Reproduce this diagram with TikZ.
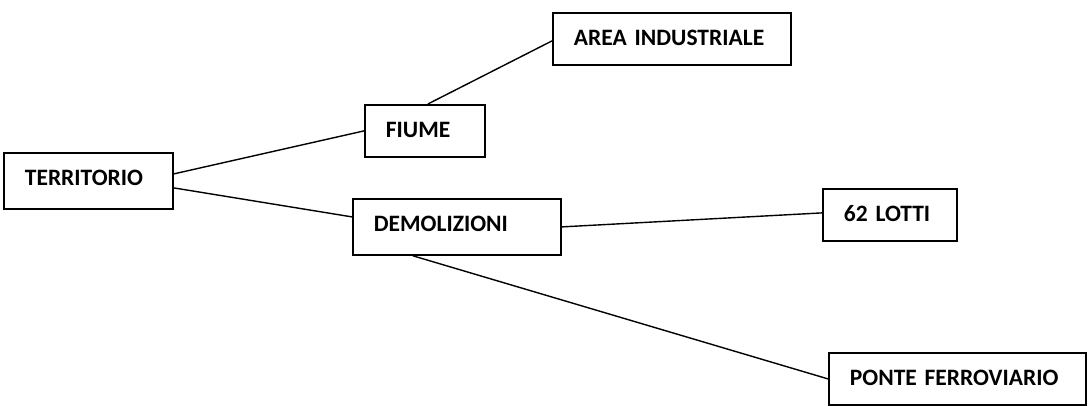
\documentclass[tikz,border=0pt]{standalone}
\usepackage{fontspec}
\setmainfont{Carlito}
\tikzset{
  box/.style={draw, line width=1.8pt, rectangle, anchor=north west,
    inner xsep=21pt, inner ysep=0pt, align=left,
    font=\fontsize{23.5}{28}\selectfont\bfseries, text height=15pt},
  link/.style={draw, line width=1.4pt}
}
\begin{document}
\begin{tikzpicture}[x=1pt,y=-1pt]
\useasboundingbox[fill=white] (0,0) rectangle (1088,406);
\node[box, text width=127pt, minimum height=56pt, text depth=5pt] (terr) at (3,152) {TERRITORIO};
\node[box, text width=78pt, minimum height=52pt, text depth=1pt] (fiume) at (364,104) {FIUME};
\node[box, text width=196pt, minimum height=52pt, text depth=1pt] (area) at (552,12) {AREA INDUSTRIALE};
\node[box, text width=166pt, minimum height=56pt, text depth=5pt] (dem) at (352,198) {DEMOLIZIONI};
\node[box, text width=92pt, minimum height=52pt, text depth=1pt] (lotti) at (822,188) {62 LOTTI};
\node[box, text width=215pt, minimum height=52pt, text depth=1pt] (ponte) at (828,352) {PONTE FERROVIARIO};
\draw[link] ([yshift=7pt]terr.east) -- (fiume.west);
\draw[link] ([yshift=-7pt]terr.east) -- ([yshift=10pt]dem.west);
\draw[link] ([xshift=3pt]fiume.north) -- ([yshift=-2pt]area.west);
\draw[link] (dem.east) -- ([yshift=2pt]lotti.west);
\draw[link] ([xshift=-44pt]dem.south) -- (ponte.west);
\end{tikzpicture}
\end{document}
